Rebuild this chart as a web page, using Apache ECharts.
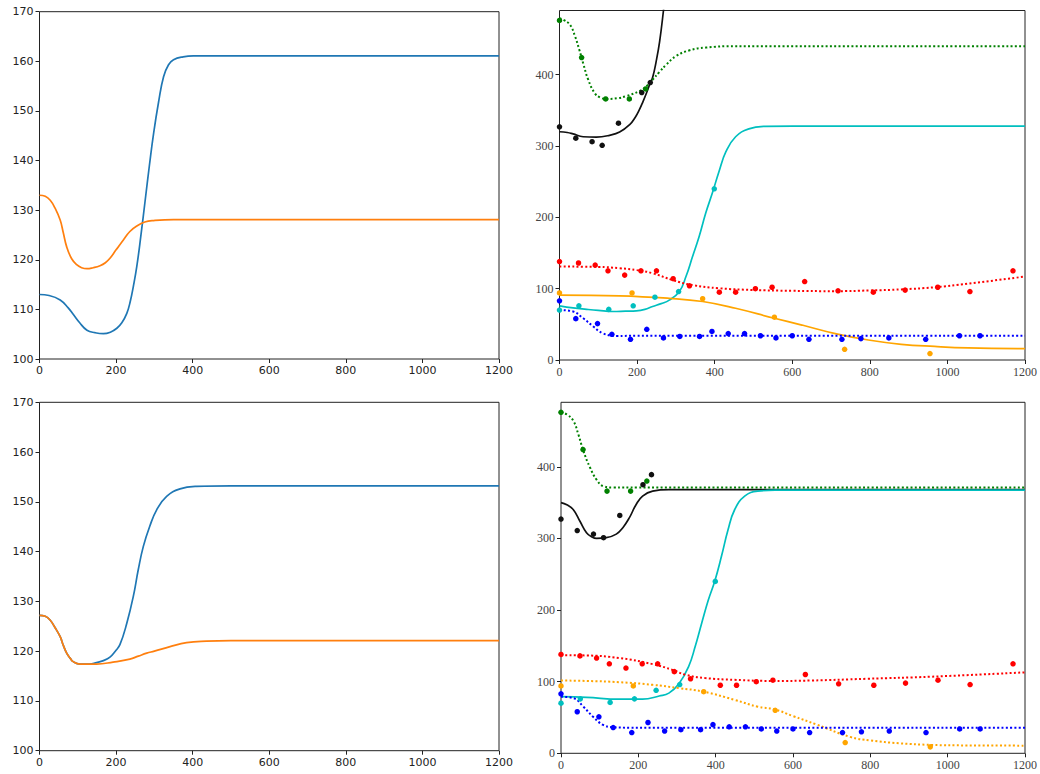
<!DOCTYPE html>
<html>
<head>
<meta charset="utf-8">
<script src="https://cdn.jsdelivr.net/npm/echarts@6/dist/echarts.min.js"></script>
<style>
html,body{margin:0;padding:0;background:#fff;}
#c{width:1040px;height:774px;}
</style>
</head>
<body>
<div id="c"></div>
<script>
// ---------- Top-left panel ----------
const tlBlue = [[0,113],[25,112.8],[54,111.9],[75,110.3],[89,108.9],[105,107.3],[124,105.8],[145,105.3],[167,105.1],[185,105.4],[202,106.2],[215,107.3],[228,109.2],[237,111.6],[245,114.6],[254,118.6],[265,125],[276,132],[287,139],[298,145.5],[311,151.8],[324,156.9],[337,159.3],[350,160.3],[375,160.9],[402,161.1],[500,161.1],[1200,161.1]];
const tlOrange = [[0,133],[15,132.8],[28,132],[40,130.5],[54,128],[62,125.5],[71,122.6],[84,120.2],[97,119],[110,118.4],[124,118.2],[140,118.4],[158,118.8],[172,119.4],[184,120.3],[200,122],[219,124],[236,125.7],[254,126.8],[275,127.6],[298,127.9],[350,128.1],[1200,128.1]];

// ---------- Bottom-left panel ----------
const blBlue = [[0,127.2],[15,127],[27,126.3],[40,124.8],[54,122.9],[62,121.2],[71,119.6],[80,118.6],[88,117.9],[106,117.4],[130,117.4],[149,117.7],[167,118.1],[184,118.8],[198,120],[210,121.3],[228,125.6],[245,131],[258,136.4],[271,141],[288,145.1],[306,148.4],[332,151.1],[367,152.6],[410,153.1],[500,153.2],[1200,153.2]];
const blOrange = [[0,127.2],[15,127],[27,126.3],[40,124.8],[54,122.9],[62,121.2],[71,119.6],[80,118.6],[88,117.9],[106,117.4],[149,117.4],[192,117.8],[236,118.4],[258,119],[280,119.6],[300,120],[341,120.9],[384,121.7],[436,122],[500,122.1],[1200,122.1]];

// ---------- Measured points (same in both right panels) ----------
const ptsBlack = [[0,327],[42,311],[84,306],[110,301],[152,332],[212,375],[234,389]];
const ptsGreen = [[0,476],[57,424],[119,366],[180,366],[222,380]];
const ptsRed = [[0,138],[49,136],[92,133],[125,125],[168,119],[210,125],[250,125],[293,114],[335,104],[412,95],[454,95],[505,100],[548,102],[632,110],[718,97],[809,95],[891,98],[975,102],[1058,96],[1169,125]];
const ptsBlue = [[0,83],[42,58],[98,51],[135,36],[183,29],[225,43],[268,31],[310,33],[361,33],[393,40],[435,37],[477,37],[518,34],[558,31],[600,34],[643,29],[728,29],[777,30],[849,31],[944,29],[1031,34],[1084,34]];
const ptsOrange = [[0,94],[187,94],[369,86],[554,60],[735,15],[955,9]];
const ptsCyan = [[0,70],[50,76],[127,71],[190,76],[246,88],[307,96],[399,240]];

// ---------- Top-right fitted curves ----------
const trBlack = [[0,320],[20,319],[35,317],[61,313],[95,312.6],[129,315],[155,319.5],[181,330],[195,340],[206,351],[215,362],[224,374],[233,387],[240,396],[249,418],[258,446],[268,490],[278,540],[290,610]];
const trGreen = [[0,479],[10,477],[27,470],[40,454],[51,435],[61,416],[74,393],[91,374],[105,368],[119,366],[150,367],[172,370],[206,377],[225,384],[240,393],[258,404],[275,414],[300,426],[334,434],[377,438],[454,440],[1200,440]];
const trCyan = [[0,76],[35,73],[70,71],[100,69.5],[138,68],[170,68.5],[198,69],[220,71],[240,75],[262,79],[283,84],[309,96],[326,117],[343,145],[360,173],[377,206],[394,234],[411,264],[429,292],[454,313],[488,324],[531,327.5],[600,328],[1200,328]];
const trOrange = [[0,91],[155,90],[283,86.5],[369,82],[454,72.5],[554,58.5],[625,49],[711,37],[796,28],[881,22],[967,19],[1053,17],[1200,16]];
const trRed = [[0,131],[100,130.5],[155,128.7],[200,126],[240,121.6],[292,112],[343,105],[411,100.6],[497,98.2],[600,97],[711,96.5],[800,97.5],[881,99],[967,102],[1053,107],[1200,117]];
const trBlue = [[0,70],[35,68],[61,58.5],[87,47],[112,37.4],[147,33.7],[200,34],[1200,34]];

// ---------- Bottom-right fitted curves ----------
const brBlack = [[0,350],[15,347],[32,340],[49,324],[66,308],[80,302],[92,300],[117,301],[143,306],[160,315],[177,329],[194,347],[211,359],[237,366],[279,368],[1200,368]];
const brGreen = [[0,476],[15,473],[32,464],[45,445],[58,422],[75,399],[92,382],[109,373],[134,371],[200,371],[1200,371]];
const brCyan = [[0,79],[66,78],[151,75.5],[211,75.5],[254,80],[279,84],[305,97],[330,121],[347,149],[364,182],[381,214],[398,241],[415,275],[432,312],[449,340],[475,359],[509,366],[560,367.3],[650,367.5],[1200,367.5]];
const brOrange = [[0,101.6],[66,101],[151,99.3],[237,95.6],[305,91],[369,86],[449,74.6],[509,65],[551,61.5],[600,52],[662,40],[747,23],[800,18],[875,14],[960,11.7],[1050,11],[1200,10.7]];
const brRed = [[0,137],[66,136.6],[151,133],[237,124.5],[288,116.5],[322,109.6],[373,105],[449,102.6],[551,101],[645,101.6],[790,104],[960,107],[1200,113]];
const brBlue = [[0,79],[32,77],[58,65],[83,51],[109,39.6],[134,36.4],[180,35.8],[1200,35.8]];

// ---------- Ticks ----------
const xTicks = [0,200,400,600,800,1000,1200];
const yTicksLeft = [100,110,120,130,140,150,160,170];
const yTicksRight = [0,100,200,300,400];

const chart = echarts.init(document.getElementById('c'), null, {renderer:'svg'});

const grids = [
  {left:39.5, top:11.7, width:459.5, height:347.3},
  {left:559.5, top:10.5, width:468, height:349.5},
  {left:39.5, top:402.3, width:459.5, height:348.4},
  {left:561, top:402.3, width:467, height:351}
].map(g => Object.assign({show:true, borderColor:'#222', borderWidth:1, backgroundColor:'transparent', containLabel:false}, g));

const sansLabel = {fontFamily:'DejaVu Sans', fontSize:11, color:'#222'};
const serifLabel = {fontFamily:'Liberation Serif', fontSize:12, color:'#444'};

function xAxis(i, lab){
  return {type:'value', gridIndex:i, min:xTicks[0], max:xTicks[xTicks.length-1], interval:xTicks[1]-xTicks[0],
    axisLine:{show:false}, splitLine:{show:false},
    axisTick:{show:true, length:4, lineStyle:{color:'#222', width:1}},
    axisLabel:Object.assign({margin:6, formatter:v => String(v)}, lab)};
}
function yAxisL(i){
  return {type:'value', gridIndex:i, min:yTicksLeft[0], max:yTicksLeft[yTicksLeft.length-1], interval:10,
    axisLine:{show:false}, splitLine:{show:false},
    axisTick:{show:true, length:4, lineStyle:{color:'#222', width:1}},
    axisLabel:Object.assign({margin:6, formatter:v => String(v)}, sansLabel)};
}
function yAxisR(i){
  return {type:'value', gridIndex:i, min:yTicksRight[0], max:490, interval:100,
    axisLine:{show:false}, splitLine:{show:false},
    axisTick:{show:true, length:4, lineStyle:{color:'#222', width:1}},
    axisLabel:Object.assign({margin:6, showMaxLabel:false, formatter:v => (yTicksRight.indexOf(v) >= 0 ? String(v) : '')}, serifLabel)};
}

function line(data, ai, color, dotted){
  return {type:'line', data:data, xAxisIndex:ai, yAxisIndex:ai, showSymbol:false, symbol:'none',
    smooth:0.45, clip:true, silent:true, animation:false,
    lineStyle:{color:color, width:dotted?2:1.7, type:dotted?[2,2.3]:'solid', cap:'butt'}};
}
function pts(data, ai, color){
  return {type:'scatter', data:data, xAxisIndex:ai, yAxisIndex:ai, symbolSize:5.5, clip:true, silent:true, animation:false,
    itemStyle:{color:color, opacity:1}, z:3};
}

const C = {k:'#111111', g:'#008000', c:'#00bfbf', r:'#ff0000', b:'#0000ff', o:'#ffa500'};

const series = [
  line(tlBlue, 0, '#1f77b4', false),
  line(tlOrange, 0, '#ff7f0e', false),
  line(blBlue, 2, '#1f77b4', false),
  line(blOrange, 2, '#ff7f0e', false),

  line(trBlack, 1, C.k, false),
  line(trGreen, 1, C.g, true),
  line(trCyan, 1, C.c, false),
  line(trOrange, 1, C.o, false),
  line(trRed, 1, C.r, true),
  line(trBlue, 1, C.b, true),
  pts(ptsBlack, 1, C.k), pts(ptsGreen, 1, C.g), pts(ptsRed, 1, C.r),
  pts(ptsBlue, 1, C.b), pts(ptsOrange, 1, C.o), pts(ptsCyan, 1, C.c),

  line(brBlack, 3, C.k, false),
  line(brGreen, 3, C.g, true),
  line(brCyan, 3, C.c, false),
  line(brOrange, 3, C.o, true),
  line(brRed, 3, C.r, true),
  line(brBlue, 3, C.b, true),
  pts(ptsBlack, 3, C.k), pts(ptsGreen, 3, C.g), pts(ptsRed, 3, C.r),
  pts(ptsBlue, 3, C.b), pts(ptsOrange, 3, C.o), pts(ptsCyan, 3, C.c)
];

chart.setOption({
  animation:false,
  backgroundColor:'#ffffff',
  grid:grids,
  xAxis:[xAxis(0, sansLabel), xAxis(1, serifLabel), xAxis(2, sansLabel), xAxis(3, serifLabel)],
  yAxis:[yAxisL(0), yAxisR(1), yAxisL(2), yAxisR(3)],
  series:series
});
</script>
</body>
</html>
